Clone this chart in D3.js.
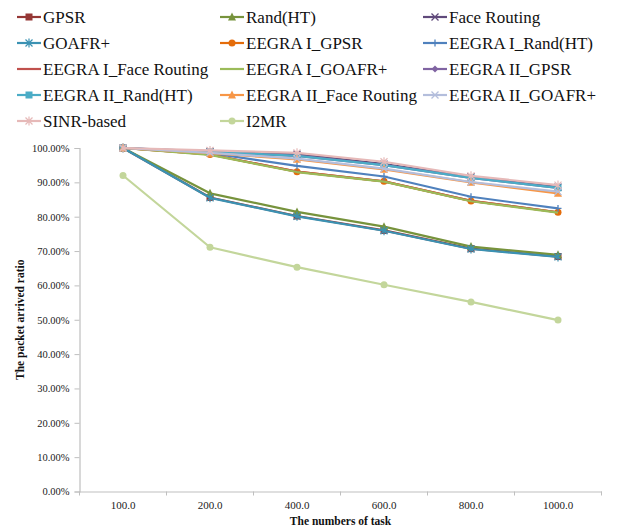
<!DOCTYPE html>
<html>
<head>
<meta charset="utf-8">
<script src="https://cdn.jsdelivr.net/npm/d3@7"></script>
<style>
  html, body { margin: 0; padding: 0; background: #fff; }
  svg { display: block; }
  svg text { font-family: "Liberation Serif", "DejaVu Serif", serif; }
</style>
</head>
<body>
<svg id="chart" width="622" height="530"></svg>
<script>
// Task counts along the x axis
const categories = ["100.0", "200.0", "400.0", "600.0", "800.0", "1000.0"];

// Packet arrived ratio (%) for each routing scheme
const gpsr          = [100, 85.6, 80.2, 76.0, 70.7, 68.4];
const randHT        = [100, 86.8, 81.4, 77.1, 71.3, 68.9];
const faceRouting   = [100, 99.0, 98.2, 95.3, 91.6, 88.6];
const goafr         = [100, 85.5, 80.1, 75.9, 70.6, 68.3];
const e1Gpsr        = [100, 98.1, 93.1, 90.3, 84.6, 81.3];
const e1RandHT      = [100, 98.5, 94.8, 91.7, 85.8, 82.4];
const e1Face        = [100, 98.1, 93.1, 90.3, 84.6, 81.3];
const e1Goafr       = [100, 98.0, 93.0, 90.2, 84.5, 81.2];
const e2Gpsr        = [100, 98.8, 97.7, 95.0, 91.3, 88.4];
const e2RandHT      = [100, 98.9, 97.7, 95.0, 91.3, 88.4];
const e2Face        = [100, 98.5, 96.7, 93.8, 90.0, 86.8];
const e2Goafr       = [100, 98.6, 96.9, 94.0, 90.1, 87.3];
const sinr          = [100, 99.3, 98.6, 96.0, 91.9, 89.2];
const i2mr          = [92.0, 71.1, 65.3, 60.2, 55.2, 49.9];

const yTicks = [0, 10, 20, 30, 40, 50, 60, 70, 80, 90, 100];

const series = [
  { name: "GPSR",                   values: gpsr,        color: "#953735", marker: "square" },
  { name: "Rand(HT)",               values: randHT,      color: "#77933C", marker: "triangle" },
  { name: "Face Routing",           values: faceRouting, color: "#604A7B", marker: "x" },
  { name: "GOAFR+",                 values: goafr,       color: "#3B92B3", marker: "star" },
  { name: "EEGRA I_GPSR",           values: e1Gpsr,      color: "#E46C0A", marker: "circle" },
  { name: "EEGRA I_Rand(HT)",       values: e1RandHT,    color: "#4F81BD", marker: "plus" },
  { name: "EEGRA I_Face Routing",   values: e1Face,      color: "#C0504D", marker: "none" },
  { name: "EEGRA I_GOAFR+",         values: e1Goafr,     color: "#9BBB59", marker: "none" },
  { name: "EEGRA II_GPSR",          values: e2Gpsr,      color: "#8064A2", marker: "diamond" },
  { name: "EEGRA II_Rand(HT)",      values: e2RandHT,    color: "#4BACC6", marker: "square" },
  { name: "EEGRA II_Face Routing",  values: e2Face,      color: "#F79646", marker: "triangle" },
  { name: "EEGRA II_GOAFR+",        values: e2Goafr,     color: "#B4BEDC", marker: "x" },
  { name: "SINR-based",             values: sinr,        color: "#E6B9B8", marker: "star" },
  { name: "I2MR",                   values: i2mr,        color: "#C3D69B", marker: "circle" }
];

const svg = d3.select("#chart");
const plot = { left: 79.5, right: 601.5, top: 148, bottom: 491.5 };

const x = d3.scaleBand().domain(categories).range([plot.left, plot.right]);
const y = d3.scaleLinear().domain([0, 100]).range([plot.bottom, plot.top]);

const serif = '"Liberation Serif", "DejaVu Serif", serif';

// Axes
const yAxis = d3.axisLeft(y).tickValues(yTicks).tickSize(5).tickPadding(5)
  .tickFormat(d => d.toFixed(2) + "%");
const gy = svg.append("g").attr("transform", `translate(${plot.left},0)`).call(yAxis);
gy.attr("font-family", null);
gy.select(".domain").attr("stroke", "#BFBFBF").attr("stroke-width", 1.2);
gy.selectAll(".tick line").attr("stroke", "#BFBFBF");
gy.selectAll(".tick text").style("font-family", serif).attr("font-size", 10.5)
  .attr("fill", "#222");

const xAxis = d3.axisBottom(x).tickSize(0).tickPadding(10);
const gx = svg.append("g").attr("transform", `translate(0,${plot.bottom})`).call(xAxis);
gx.attr("font-family", null);
gx.select(".domain").attr("stroke", "#BFBFBF").attr("stroke-width", 1.2);
gx.selectAll(".tick text").style("font-family", serif).attr("font-size", 11)
  .attr("fill", "#222");
// Category separator ticks
const bounds = categories.map(c => x(c)).concat([plot.right]);
svg.append("g").selectAll("line").data(bounds).join("line")
  .attr("x1", d => d).attr("x2", d => d)
  .attr("y1", plot.bottom).attr("y2", plot.bottom + 4)
  .attr("stroke", "#BFBFBF");

// Axis titles
svg.append("text")
  .attr("x", (plot.left + plot.right) / 2).attr("y", 525)
  .attr("text-anchor", "middle").style("font-family", serif)
  .attr("font-weight", "bold").attr("font-size", 11.5).attr("fill", "#111")
  .text("The numbers of task");
svg.append("text")
  .attr("transform", `translate(24,${(plot.top + plot.bottom) / 2}) rotate(-90)`)
  .attr("text-anchor", "middle").style("font-family", serif)
  .attr("font-weight", "bold").attr("font-size", 11.5).attr("fill", "#111")
  .text("The packet arrived ratio");

// Marker drawing
function drawMarker(g, type, color, cx, cy, s) {
  const r = s / 2;
  switch (type) {
    case "square":
      g.append("rect").attr("x", cx - r).attr("y", cy - r).attr("width", s).attr("height", s)
        .attr("fill", color);
      break;
    case "circle":
      g.append("circle").attr("cx", cx).attr("cy", cy).attr("r", r).attr("fill", color);
      break;
    case "triangle":
      g.append("path").attr("d", `M${cx},${cy - r - 1}L${cx + r + 0.5},${cy + r}L${cx - r - 0.5},${cy + r}Z`)
        .attr("fill", color);
      break;
    case "diamond":
      g.append("path").attr("d", `M${cx},${cy - r}L${cx + r},${cy}L${cx},${cy + r}L${cx - r},${cy}Z`)
        .attr("fill", color);
      break;
    case "x":
      g.append("path").attr("d", `M${cx - r},${cy - r}L${cx + r},${cy + r}M${cx - r},${cy + r}L${cx + r},${cy - r}`)
        .attr("stroke", color).attr("stroke-width", 1.3).attr("fill", "none");
      break;
    case "plus":
      g.append("path").attr("d", `M${cx},${cy - r}L${cx},${cy + r}M${cx - r},${cy}L${cx + r},${cy}`)
        .attr("stroke", color).attr("stroke-width", 1.3).attr("fill", "none");
      break;
    case "star":
      g.append("path").attr("d", `M${cx - r},${cy - r}L${cx + r},${cy + r}M${cx - r},${cy + r}L${cx + r},${cy - r}M${cx},${cy - r - 1}L${cx},${cy + r + 1}`)
        .attr("stroke", color).attr("stroke-width", 1.2).attr("fill", "none");
      break;
  }
}

// Series lines and markers
const line = d3.line()
  .x((d, i) => x(categories[i]) + x.bandwidth() / 2)
  .y(d => y(d));

const seriesG = svg.append("g");
series.forEach(s => {
  const g = seriesG.append("g");
  g.append("path").datum(s.values).attr("d", line)
    .attr("fill", "none").attr("stroke", s.color).attr("stroke-width", 2.2)
    .attr("stroke-linejoin", "round");
  s.values.forEach((v, i) => {
    drawMarker(g, s.marker, s.color, x(categories[i]) + x.bandwidth() / 2, y(v), 7);
  });
});

// Legend: three columns
const legendCols = [17, 220, 423];
const legendRowY = [17, 43, 69, 95, 121];
const legend = svg.append("g");
series.forEach((s, i) => {
  const lx = legendCols[i % 3];
  const ly = legendRowY[Math.floor(i / 3)];
  const g = legend.append("g");
  g.append("line").attr("x1", lx).attr("x2", lx + 24).attr("y1", ly).attr("y2", ly)
    .attr("stroke", s.color).attr("stroke-width", 2.2);
  drawMarker(g, s.marker, s.color, lx + 12, ly, 7);
  g.append("text").attr("x", lx + 26).attr("y", ly).attr("dy", "0.35em")
    .style("font-family", serif).attr("font-size", 17).attr("fill", "#111")
    .text(s.name);
});
</script>
</body>
</html>
